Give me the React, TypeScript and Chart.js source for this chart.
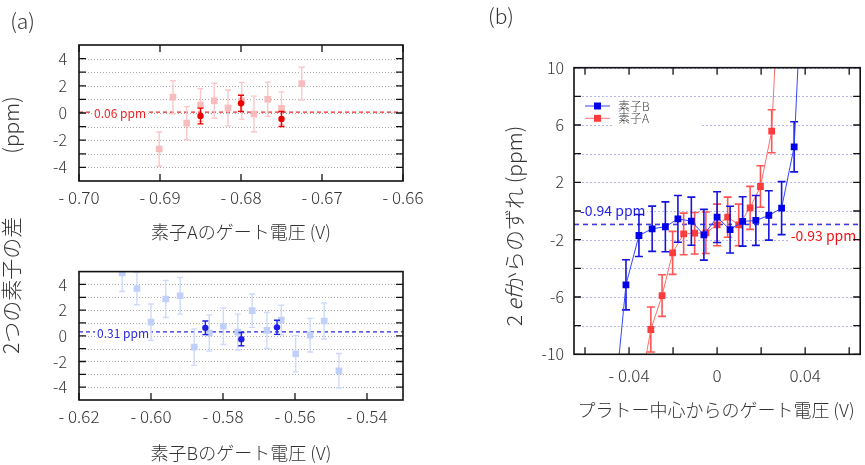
import React, { useEffect, useRef } from 'react';
import { Chart, registerables } from 'chart.js';
Chart.register(...registerables);

const FONT = '"Noto Sans CJK JP", "Noto Sans", sans-serif';

// ---------- (a) upper panel : 素子A ----------
const aAllX = [-0.6901, -0.6884, -0.6867, -0.685, -0.6833, -0.6816, -0.6799, -0.6784, -0.6767, -0.675, -0.6725];
const aAllY = [-2.65, 1.16, -0.75, 0.59, 0.9, 0.37, 0.9, -0.07, 1.01, 0.35, 2.16];
const aAllErr = [1.25, 1.21, 1.22, 1.2, 1.29, 1.32, 1.35, 1.31, 1.26, 1.2, 1.2];
const aSelX = [-0.685, -0.68, -0.675];
const aSelY = [-0.22, 0.71, -0.44];
const aSelErr = [0.58, 0.59, 0.55];
const aMean = 0.06;
const aXTicks = [-0.7, -0.69, -0.68, -0.67, -0.66];

// ---------- (a) lower panel : 素子B ----------
const bAllX = [-0.608, -0.6039, -0.6, -0.5959, -0.5919, -0.588, -0.5838, -0.5799, -0.5759, -0.5719, -0.5678, -0.5638, -0.5598, -0.5558, -0.5519, -0.5478];
const bAllY = [4.9, 3.68, 1.06, 2.87, 3.12, -0.88, 0.22, 0.74, 0.29, 1.96, 0.42, 1.23, -1.4, 0.05, 1.15, -2.72];
const bAllErr = [1.45, 1.26, 1.42, 1.45, 1.43, 1.42, 1.41, 1.42, 1.4, 1.3, 1.41, 1.15, 1.41, 1.31, 1.4, 1.34];
const bSelX = [-0.5849, -0.5749, -0.565];
const bSelY = [0.62, -0.26, 0.66];
const bSelErr = [0.53, 0.52, 0.55];
const bMean = 0.31;
const bXTicks = [-0.62, -0.6, -0.58, -0.56, -0.54];

const diffYTicks = [-4, -3, -2, -1, 0, 1, 2, 3, 4];
const diffYLabels = [-4, -2, 0, 2, 4];

// ---------- (b) ----------
const devBX = [-0.047, -0.0414, -0.0355, -0.0295, -0.0235, -0.0178, -0.0117, -0.006, 0.0, 0.0059, 0.0116, 0.0176, 0.0235, 0.0293, 0.035, 0.041];
const devBY = [-14, -5.15, -1.71, -1.24, -1.1, -0.55, -0.71, -1.66, -0.43, -1.3, -0.73, -0.66, -0.31, 0.2, 4.48, 24];
const devBErr = [1.8, 1.75, 1.47, 1.58, 1.74, 1.63, 1.68, 1.77, 1.77, 1.63, 1.72, 1.74, 1.72, 1.85, 1.75, 1.8];
const devAX = [-0.035, -0.0301, -0.025, -0.0202, -0.0152, -0.0102, -0.0051, 0.0, 0.0048, 0.0098, 0.015, 0.0197, 0.0248, 0.03];
const devAY = [-12.4, -8.27, -5.9, -2.92, -1.6, -1.55, -1.52, -0.97, -0.43, -0.97, 0.22, 1.71, 5.57, 22];
const devAErr = [1.5, 1.57, 1.45, 1.5, 1.45, 1.45, 1.45, 1.45, 1.4, 1.45, 1.5, 1.45, 1.5, 1.5];
const meanB = -0.94;
const meanA = -0.93;
const pXTicks = [-0.06, -0.04, -0.02, 0, 0.02, 0.04, 0.06];
const pXLabels = [-0.04, 0, 0.04];
const pYTicks = [-10, -8, -6, -4, -2, 0, 2, 4, 6, 8, 10];
const pYLabels = [-10, -6, -2, 2, 6, 10];

const fmtX = (v: number) => (v < 0 ? '- ' + Math.abs(v).toFixed(2) : v === 0 ? '0' : v.toFixed(2));

type Ref = { y: number; color: string; dash: number[]; width: number; label: string; labelColor: string; align: 'left' | 'right'; dx: number; dy: number; font: number };
type DecorCfg = {
  gridColor: string;
  gridDash: number[];
  tickLen: number;
  topTicks: boolean;
  refs: Ref[];
  legend?: { label: string; color: string; line: string }[];
};

function decor(cfg: DecorCfg) {
  return {
    id: 'decor',
    beforeDatasetsDraw(chart: any) {
      const { ctx, chartArea: ca, scales } = chart;
      const ys = scales.y;
      ctx.save();
      ctx.beginPath();
      ctx.rect(ca.left, ca.top, ca.right - ca.left, ca.bottom - ca.top);
      ctx.clip();
      ctx.strokeStyle = cfg.gridColor;
      ctx.lineWidth = 1;
      ctx.setLineDash(cfg.gridDash);
      for (const t of ys.ticks) {
        const y = Math.round(ys.getPixelForValue(t.value)) + 0.5;
        ctx.beginPath();
        ctx.moveTo(ca.left, y);
        ctx.lineTo(ca.right, y);
        ctx.stroke();
      }
      for (const r of cfg.refs) {
        const y = ys.getPixelForValue(r.y);
        ctx.strokeStyle = r.color;
        ctx.lineWidth = r.width;
        ctx.setLineDash(r.dash);
        ctx.beginPath();
        ctx.moveTo(ca.left, y);
        ctx.lineTo(ca.right, y);
        ctx.stroke();
      }
      ctx.setLineDash([]);
      for (const r of cfg.refs) {
        const y = ys.getPixelForValue(r.y) + r.dy;
        ctx.font = `${r.font}px ${FONT}`;
        const w = ctx.measureText(r.label).width;
        const x = r.align === 'left' ? ca.left + r.dx : ca.right - r.dx - w;
        ctx.fillStyle = '#fff';
        ctx.fillRect(x - 2, y - r.font * 0.6, w + 4, r.font * 1.2);
        ctx.fillStyle = r.labelColor;
        ctx.textBaseline = 'middle';
        ctx.textAlign = 'left';
        ctx.fillText(r.label, x, y);
      }
      ctx.restore();
    },
    beforeDatasetDraw(chart: any, args: any) {
      const ds = chart.data.datasets[args.index];
      if (!ds.err) return;
      const { ctx, chartArea: ca, scales } = chart;
      const xs = scales.x, ys = scales.y;
      ctx.save();
      ctx.beginPath();
      ctx.rect(ca.left, ca.top, ca.right - ca.left, ca.bottom - ca.top);
      ctx.clip();
      ctx.strokeStyle = ds.errColor;
      ctx.lineWidth = ds.errWidth;
      ds.data.forEach((p: any, i: number) => {
        const e = ds.err[i];
        const x = xs.getPixelForValue(p.x);
        const y1 = ys.getPixelForValue(p.y + e);
        const y2 = ys.getPixelForValue(p.y - e);
        const c = ds.capW;
        ctx.beginPath();
        ctx.moveTo(x, y1);
        ctx.lineTo(x, y2);
        ctx.moveTo(x - c, y1);
        ctx.lineTo(x + c, y1);
        ctx.moveTo(x - c, y2);
        ctx.lineTo(x + c, y2);
        ctx.stroke();
      });
      ctx.restore();
    },
    afterDatasetsDraw(chart: any) {
      const { ctx, chartArea: ca, scales } = chart;
      const xs = scales.x, ys = scales.y;
      ctx.save();
      ctx.strokeStyle = '#111';
      ctx.lineWidth = 1.3;
      for (const t of xs.ticks) {
        const x = xs.getPixelForValue(t.value);
        ctx.beginPath();
        ctx.moveTo(x, ca.bottom);
        ctx.lineTo(x, ca.bottom - cfg.tickLen);
        if (cfg.topTicks) {
          ctx.moveTo(x, ca.top);
          ctx.lineTo(x, ca.top + cfg.tickLen);
        }
        ctx.stroke();
      }
      for (const t of ys.ticks) {
        const y = ys.getPixelForValue(t.value);
        ctx.beginPath();
        ctx.moveTo(ca.left, y);
        ctx.lineTo(ca.left + cfg.tickLen, y);
        ctx.moveTo(ca.right, y);
        ctx.lineTo(ca.right - cfg.tickLen, y);
        ctx.stroke();
      }
      ctx.lineWidth = 1.6;
      ctx.strokeRect(ca.left, ca.top, ca.right - ca.left, ca.bottom - ca.top);
      if (cfg.legend) {
        ctx.fillStyle = '#fff';
        ctx.fillRect(ca.left + 38, ca.top + 31, 88, 30);
        cfg.legend.forEach((it, i) => {
          const y = ca.top + 38.3 + i * 12.3;
          ctx.strokeStyle = it.line;
          ctx.lineWidth = 1;
          ctx.beginPath();
          ctx.moveTo(ca.left + 11, y);
          ctx.lineTo(ca.left + 36, y);
          ctx.stroke();
          ctx.fillStyle = it.color;
          ctx.fillRect(ca.left + 20, y - 3.5, 7, 7);
          ctx.fillStyle = '#444';
          ctx.font = `300 12px ${FONT}`;
          ctx.textBaseline = 'middle';
          ctx.textAlign = 'left';
          ctx.fillText(it.label, ca.left + 44, y);
        });
      }
      ctx.restore();
    },
  };
}

function axisSet(o: {
  xmin: number; xmax: number; xTicks: number[]; xLabels: number[]; xPad: number; xH: number;
  ymin: number; ymax: number; yTicks: number[]; yLabels: number[]; yPad: number; yW: number;
}) {
  return {
    x: {
      type: 'linear', min: o.xmin, max: o.xmax,
      afterBuildTicks: (s: any) => { s.ticks = o.xTicks.map((value) => ({ value })); },
      afterFit: (s: any) => { s.height = o.xH; },
      grid: { display: false, drawTicks: false }, border: { display: false },
      ticks: {
        autoSkip: false, maxRotation: 0, minRotation: 0, padding: o.xPad, color: '#333', font: { family: FONT, size: 17, weight: '300' },
        callback: (v: number) => (o.xLabels.some((l) => Math.abs(l - v) < 1e-9) ? fmtX(v) : ''),
      },
    },
    y: {
      type: 'linear', min: o.ymin, max: o.ymax,
      afterBuildTicks: (s: any) => { s.ticks = o.yTicks.map((value) => ({ value })); },
      afterFit: (s: any) => { s.width = o.yW; },
      grid: { display: false, drawTicks: false }, border: { display: false },
      ticks: {
        autoSkip: false, padding: o.yPad, color: '#333', font: { family: FONT, size: 16, weight: '300' },
        callback: (v: number) => (o.yLabels.includes(v) ? String(v) : ''),
      },
    },
  };
}

const pts = (xs: number[], ys: number[]) => xs.map((x, i) => ({ x, y: ys[i] }));

function configA() {
  return {
    type: 'scatter',
    data: {
      datasets: [
        { data: pts(aSelX, aSelY), err: aSelErr, errColor: 'rgb(235,0,0)', errWidth: 1.4, capW: 3, pointStyle: 'circle', pointRadius: 3.2, pointBackgroundColor: 'rgb(235,0,0)', pointBorderWidth: 0, showLine: false },
        { data: pts(aAllX, aAllY), err: aAllErr, errColor: 'rgb(250,200,200)', errWidth: 1.4, capW: 3, pointStyle: 'rect', pointRadius: 4.7, pointBackgroundColor: 'rgb(248,188,188)', pointBorderWidth: 0, showLine: false },
      ],
    },
    options: {
      animation: false, responsive: false, maintainAspectRatio: false,
      layout: { padding: { left: 0, top: 45, right: 27, bottom: 0 } },
      plugins: { legend: { display: false }, tooltip: { enabled: false } },
      scales: axisSet({ xmin: -0.7, xmax: -0.66, xTicks: aXTicks, xLabels: aXTicks, xPad: 6, xH: 69, ymin: -5, ymax: 5, yTicks: diffYTicks, yLabels: diffYLabels, yPad: 12, yW: 79 }),
    },
    plugins: [decor({
      gridColor: '#aaa', gridDash: [1, 2], tickLen: 7, topTicks: true,
      refs: [{ y: aMean, color: 'rgb(240,40,40)', dash: [4, 3], width: 1.2, label: '0.06 ppm', labelColor: 'rgb(240,30,30)', align: 'left', dx: 15, dy: 1, font: 12 }],
    })],
  };
}

function configB() {
  return {
    type: 'scatter',
    data: {
      datasets: [
        { data: pts(bSelX, bSelY), err: bSelErr, errColor: 'rgb(30,30,230)', errWidth: 1.4, capW: 3, pointStyle: 'circle', pointRadius: 3.2, pointBackgroundColor: 'rgb(30,30,230)', pointBorderWidth: 0, showLine: false },
        { data: pts(bAllX, bAllY), err: bAllErr, errColor: 'rgb(205,218,250)', errWidth: 1.4, capW: 3, pointStyle: 'rect', pointRadius: 4.7, pointBackgroundColor: 'rgb(192,208,250)', pointBorderWidth: 0, showLine: false },
      ],
    },
    options: {
      animation: false, responsive: false, maintainAspectRatio: false,
      layout: { padding: { left: 0, top: 14, right: 27, bottom: 0 } },
      plugins: { legend: { display: false }, tooltip: { enabled: false } },
      scales: axisSet({ xmin: -0.62, xmax: -0.53, xTicks: bXTicks, xLabels: bXTicks, xPad: 6, xH: 65, ymin: -5, ymax: 5, yTicks: diffYTicks, yLabels: diffYLabels, yPad: 12, yW: 79 }),
    },
    plugins: [decor({
      gridColor: '#aaa', gridDash: [1, 2], tickLen: 7, topTicks: false,
      refs: [{ y: bMean, color: 'rgb(40,40,220)', dash: [4, 3], width: 1.2, label: '0.31 ppm', labelColor: 'rgb(40,40,220)', align: 'left', dx: 18, dy: 2, font: 12 }],
    })],
  };
}

function configP() {
  return {
    type: 'scatter',
    data: {
      datasets: [
        { label: '素子B', data: pts(devBX, devBY), err: devBErr, errColor: 'rgb(20,20,225)', errWidth: 1.6, capW: 4, showLine: true, borderColor: 'rgb(50,70,255)', borderWidth: 1, pointStyle: 'rect', pointRadius: 4.8, pointBackgroundColor: 'rgb(0,0,235)', pointBorderWidth: 0 },
        { label: '素子A', data: pts(devAX, devAY), err: devAErr, errColor: 'rgb(255,85,85)', errWidth: 1.6, capW: 4, showLine: true, borderColor: 'rgb(255,110,110)', borderWidth: 1, pointStyle: 'rect', pointRadius: 4.8, pointBackgroundColor: 'rgb(255,60,60)', pointBorderWidth: 0 },
      ],
    },
    options: {
      animation: false, responsive: false, maintainAspectRatio: false,
      layout: { padding: { left: 0, top: 67.7, right: 4, bottom: 0 } },
      plugins: { legend: { display: false }, tooltip: { enabled: false } },
      scales: axisSet({ xmin: -0.065, xmax: 0.065, xTicks: pXTicks, xLabels: pXLabels, xPad: 11, xH: 110.7, ymin: -10, ymax: 10, yTicks: pYTicks, yLabels: pYLabels, yPad: 10, yW: 134 }),
    },
    plugins: [decor({
      gridColor: 'rgba(120,120,230,0.55)', gridDash: [2, 2], tickLen: 7, topTicks: true,
      refs: [
        { y: meanA, color: 'rgb(255,80,80)', dash: [5, 4], width: 1.4, label: '-0.93 ppm', labelColor: 'rgb(240,20,20)', align: 'right', dx: 4, dy: 11, font: 14 },
        { y: meanB, color: 'rgb(60,60,230)', dash: [5, 4], width: 1.4, label: '-0.94 ppm', labelColor: 'rgb(30,30,230)', align: 'left', dx: 6, dy: -14, font: 14 },
      ],
      legend: [
        { label: '素子B', color: 'rgb(0,0,235)', line: 'rgb(50,70,255)' },
        { label: '素子A', color: 'rgb(255,60,60)', line: 'rgb(255,110,110)' },
      ],
    })],
  };
}

const centered = (x: number, y: number, size: number, rotate = false): React.CSSProperties => ({
  position: 'absolute', left: x, top: y, fontSize: size, lineHeight: 1.2, whiteSpace: 'pre', color: '#333', fontWeight: 300,
  transform: `translate(-50%, -50%)${rotate ? ' rotate(-90deg)' : ''}`,
});

export default function App() {
  const r1 = useRef<HTMLCanvasElement>(null);
  const r2 = useRef<HTMLCanvasElement>(null);
  const r3 = useRef<HTMLCanvasElement>(null);
  useEffect(() => {
    const c1 = new Chart(r1.current as any, configA() as any);
    const c2 = new Chart(r2.current as any, configB() as any);
    const c3 = new Chart(r3.current as any, configP() as any);
    return () => { c1.destroy(); c2.destroy(); c3.destroy(); };
  }, []);
  return (
    <div style={{ position: 'absolute', left: 0, top: 0, width: 865, height: 465, background: '#fff', overflow: 'hidden', fontFamily: FONT }}>
      <canvas ref={r1} width={430} height={250} style={{ position: 'absolute', left: 0, top: 0 }} />
      <canvas ref={r2} width={430} height={215} style={{ position: 'absolute', left: 0, top: 250 }} />
      <canvas ref={r3} width={425} height={465} style={{ position: 'absolute', left: 440, top: 0 }} />
      <div style={centered(22.5, 21, 21)}>(a)</div>
      <div style={centered(501, 16, 21)}>(b)</div>
      <div style={centered(241, 232, 18)}>素子Aのゲート電圧 (V)</div>
      <div style={centered(241, 453, 18)}>素子Bのゲート電圧 (V)</div>
      <div style={centered(716, 410, 18)}>プラトー中心からのゲート電圧 (V)</div>
      <div style={centered(11, 225, 21, true)}>{'2つの素子の差\u3000\u3000\u3000(ppm)'}</div>
      <div style={centered(514, 226, 21, true)}>2 <i>ef</i>からのずれ (ppm)</div>
    </div>
  );
}
